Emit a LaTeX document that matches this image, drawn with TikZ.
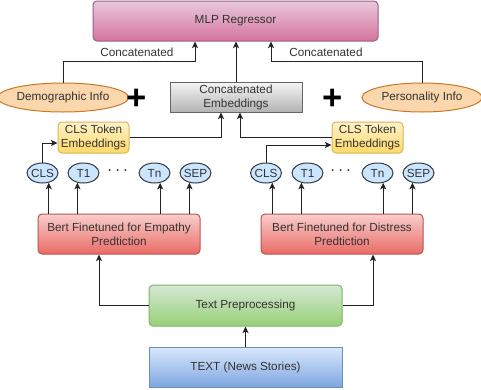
\documentclass[tikz,border=0pt]{standalone}
\usepackage{fontspec}
\setmainfont{Liberation Sans}
\usetikzlibrary{shapes.geometric,shadings,arrows.meta}

\tikzset{every picture/.style={line width=0.75pt}}
\tikzset{
	txt/.style={color={rgb, 255:red, 51; green, 51; blue, 51 }, font=\fontsize{8.8}{10.5}\selectfont},
	arr/.style={draw={rgb, 255:red, 34; green, 34; blue, 34 }, -{Stealth[length=5pt,width=4.6pt,inset=1.3pt]}},
	box/.style={txt, rectangle, rounded corners=3pt, inner sep=1pt, align=center},
	mlpbox/.style={box, minimum width=213.75pt, minimum height=30pt, draw={rgb, 255:red, 153; green, 97; blue, 133 }, top color={rgb, 255:red, 232; green, 200; blue, 218 }, bottom color={rgb, 255:red, 213; green, 115; blue, 157 }},
	embbox/.style={box, rounded corners=0pt, minimum width=99pt, minimum height=22.5pt, draw={rgb, 255:red, 102; green, 102; blue, 102 }, top color={rgb, 255:red, 245; green, 245; blue, 245 }, bottom color={rgb, 255:red, 179; green, 179; blue, 179 }},
	infoell/.style={txt, ellipse, inner sep=0pt, minimum height=21.75pt, draw={rgb, 255:red, 200; green, 120; blue, 40 }, fill={rgb, 255:red, 250; green, 215; blue, 172 }},
	clsbox/.style={box, minimum width=53.25pt, minimum height=23.25pt, draw={rgb, 255:red, 214; green, 182; blue, 86 }, top color={rgb, 255:red, 255; green, 242; blue, 204 }, bottom color={rgb, 255:red, 255; green, 217; blue, 102 }},
	tokell/.style={txt, ellipse, inner ysep=0pt, inner xsep=-1.5pt, minimum width=23.25pt, minimum height=15pt, draw={rgb, 255:red, 54; green, 57; blue, 61 }, fill={rgb, 255:red, 204; green, 229; blue, 255 }},
	bertbox/.style={box, minimum width=121.5pt, minimum height=30pt, draw={rgb, 255:red, 184; green, 84; blue, 80 }, top color={rgb, 255:red, 248; green, 206; blue, 204 }, bottom color={rgb, 255:red, 234; green, 107; blue, 102 }},
	prepbox/.style={box, minimum width=144.75pt, minimum height=30.75pt, draw={rgb, 255:red, 130; green, 179; blue, 102 }, top color={rgb, 255:red, 213; green, 232; blue, 212 }, bottom color={rgb, 255:red, 151; green, 208; blue, 119 }},
	textbox/.style={box, rounded corners=0pt, minimum width=144.75pt, minimum height=30pt, draw={rgb, 255:red, 108; green, 142; blue, 191 }, top color={rgb, 255:red, 218; green, 232; blue, 252 }, bottom color={rgb, 255:red, 126; green, 166; blue, 224 }},
	plussign/.style={inner sep=0pt, font=\fontsize{26}{26}\bfseries},
	tokdots/.style={txt, inner sep=0pt, font=\fontsize{8.8}{10.5}\bfseries}}

\begin{document}
\begin{tikzpicture}[x=0.75pt,y=0.75pt,yscale=-1,xscale=1]
	\useasboundingbox (0,0) rectangle (481,389);
	\clip (0,0) rectangle (481,389);
	
	%Shape: Rounded Rect
	\node [mlpbox] (mlp) at (235.5,21) {MLP Regressor};
	%Shape: Ellipse
	\node [infoell, minimum width=84pt] (demo) at (63,97.5) {Demographic Info};
	%Shape: Ellipse
	\node [infoell, minimum width=90pt] (pers) at (422,97.5) {Personality Info};
	%Shape: Rectangle
	\node [embbox] (emb) at (236,97) {Concatenated\\Embeddings};
	% Text Node
	\node [plussign] (plusL) at (137,99) {+};
	% Text Node
	\node [plussign] (plusR) at (333,99) {+};
	
	%Shape: Rounded Rect
	\node [clsbox] (clsboxL) at (93.5,137.5) {CLS Token\\Embeddings};
	%Shape: Rounded Rect
	\node [clsbox] (clsboxR) at (367.5,137.5) {CLS Token\\Embeddings};
	
	%Shape: Ellipse
	\node [tokell] (clsL) at (42.5,173) {CLS};
	\node [tokell] (t1L) at (83.5,173) {T1};
	\node [tokell] (tnL) at (154.5,173) {Tn};
	\node [tokell] (sepL) at (195.5,173) {SEP};
	\node [tokdots] (dotsL) at (118,172) {·\hspace{3pt}·\hspace{3pt}·};
	%Shape: Ellipse
	\node [tokell] (clsR) at (266,173) {CLS};
	\node [tokell] (t1R) at (307.5,173) {T1};
	\node [tokell] (tnR) at (377.5,173) {Tn};
	\node [tokell] (sepR) at (418.5,173) {SEP};
	\node [tokdots] (dotsR) at (341,172) {·\hspace{3pt}·\hspace{3pt}·};
	
	%Shape: Rounded Rect
	\node [bertbox] (bertL) at (119,234) {Bert Finetuned for Empathy\\Predtiction};
	%Shape: Rounded Rect
	\node [bertbox] (bertR) at (342,234) {Bert Finetuned for Distress\\Predtiction};
	%Shape: Rounded Rect
	\node [prepbox] (prep) at (245.5,305.5) {Text Preprocessing};
	%Shape: Rectangle
	\node [textbox] (news) at (245.5,367) {TEXT (News Stories)};
	
	%Straight Lines
	\draw [arr] (news) -- (prep);
	\draw [arr] (prep.west) -| (bertL.south -| 99,0);
	\draw [arr] (prep.east) -| (bertR.south -| 373,0);
	%Straight Lines
	\draw [arr] (bertL.north -| clsL.-57) -- (clsL.-57);
	\draw [arr] (bertL.north -| t1L.-122) -- (t1L.-122);
	\draw [arr] (bertL.north -| tnL.-60) -- (tnL.-60);
	\draw [arr] (bertL.north -| sepL.-122) -- (sepL.-122);
	\draw [arr] (bertR.north -| clsR.-57) -- (clsR.-57);
	\draw [arr] (bertR.north -| t1R.-122) -- (t1R.-122);
	\draw [arr] (bertR.north -| tnR.-60) -- (tnR.-60);
	\draw [arr] (bertR.north -| sepR.-122) -- (sepR.-122);
	%Straight Lines
	\draw [arr] (clsL.north) |- (clsboxL.west |- 0,143);
	\draw [arr] (clsR.north) |- (clsboxR.west |- 0,145);
	\draw [arr] (clsboxL.east) -| (emb.south -| 221,0);
	\draw [arr] (clsboxR.west) -| (emb.south -| 240,0);
	%Straight Lines
	\draw [arr] (emb) -- (emb.north |- mlp.south);
	\draw [arr] (demo.north) |- (195,61) -- (mlp.south -| 195,0);
	\draw [arr] (pers.north) |- (271,61) -- (mlp.south -| 271,0);
	
	% Text Node
	\node [txt] (catL) at (137,52) {Concatenated};
	% Text Node
	\node [txt] (catR) at (326,52) {Concatenated};
	
\end{tikzpicture}
\end{document}
